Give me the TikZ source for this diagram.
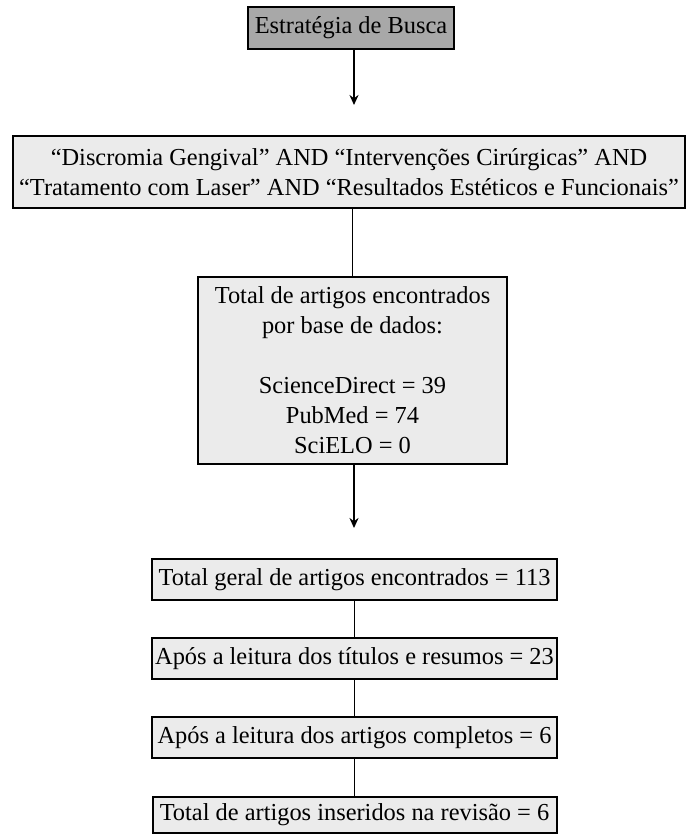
\documentclass[tikz,border=0pt]{standalone}
\usepackage{fontspec}
\setmainfont{Liberation Serif}
\usepackage{tikz}
\usetikzlibrary{arrows.meta}
\definecolor{cinzaescuro}{HTML}{A8A8A8}
\definecolor{cinzaclaro}{HTML}{EBEBEB}
\tikzset{
  caixa/.style={draw=black, line width=1pt, fill=cinzaclaro, align=center, inner sep=0pt,
    font=\fontsize{12.2}{15}\selectfont},
  caixatopo/.style={caixa, fill=cinzaescuro},
  seta/.style={line width=0.8pt, -{Stealth[length=5pt,width=4.5pt]}},
  linha/.style={line width=0.8pt}
}
\newcommand{\etapa}[5]{\node[caixa, minimum width=#3, minimum height=#4] (#1) at (354.5,#2) {#5};}
\begin{document}
\begin{tikzpicture}[x=0.5pt,y=-0.5pt]
        \useasboundingbox (0,0) rectangle (686,834);
        \node[caixatopo, minimum width=103pt, minimum height=21pt] (estrategia) at (351,28) {Estratégia de Busca};
        \coordinate (fimseta1) at (354,105);
        \node[caixa, minimum width=336pt, minimum height=36pt] (descritores) at (349,172)
            {“Discromia Gengival” AND “Intervenções Cirúrgicas” AND\\
             “Tratamento com Laser” AND “Resultados Estéticos e Funcionais”};
        \node[caixa, minimum width=154.5pt, minimum height=93.5pt] (bases) at (352.5,370.5)
            {Total de artigos encontrados\\ por base de dados:\\[15pt]
             ScienceDirect = 39\\ PubMed = 74\\ SciELO = 0};
        \coordinate (fimseta2) at (354,528);
        \etapa{geral}{579.5}{202.5pt}{20.5pt}{Total geral de artigos encontrados = 113}
        \etapa{titulos}{658.5}{202.5pt}{20.5pt}{Após a leitura dos títulos e resumos = 23}
        \etapa{completos}{737.5}{202.5pt}{20.5pt}{Após a leitura dos artigos completos = 6}
        \etapa{inseridos}{815}{202pt}{18pt}{Total de artigos inseridos na revisão = 6}
        % conectores
        \draw[seta] (estrategia.south -| fimseta1) -- (fimseta1);
        \draw[linha] (bases.north |- descritores.south) -- (bases.north);
        \draw[seta] (bases.south -| fimseta2) -- (fimseta2);
        \draw[linha] (geral) -- (titulos);
        \draw[linha] (titulos) -- (completos);
        \draw[linha] (completos) -- (inseridos);
    \end{tikzpicture}
\end{document}
